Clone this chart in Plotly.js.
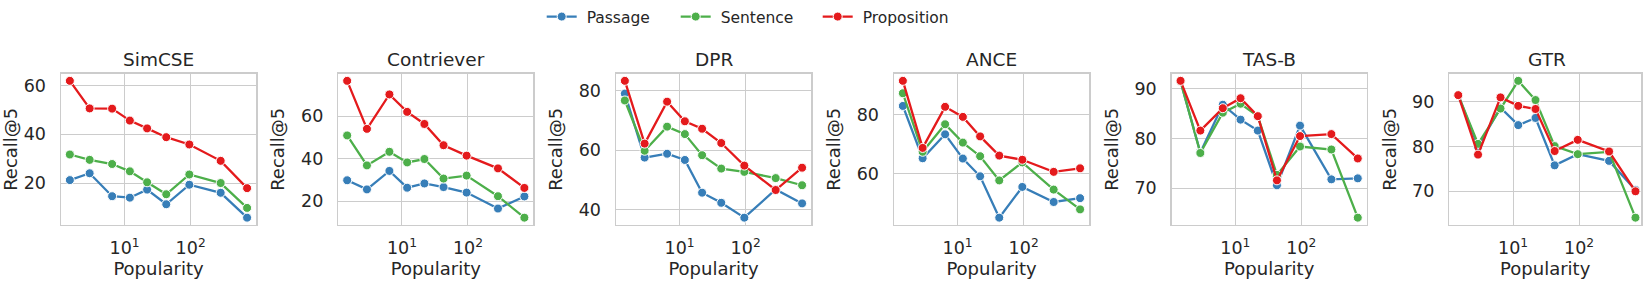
<!DOCTYPE html>
<html>
<head>
<meta charset="utf-8">
<script src="https://cdn.plot.ly/plotly-3.0.1.min.js"></script>
<style>html,body{margin:0;padding:0;background:#fff}#chart{width:1644px;height:281px}</style>
</head>
<body>
<div id="chart"></div>
<script>
// ---- data ----
const popularity = [1.48, 2.95, 6.46, 12.0, 21.9, 42.7, 95.5, 285, 716];
const models = ['SimCSE', 'Contriever', 'DPR', 'ANCE', 'TAS-B', 'GTR'];
const seriesNames = ['Passage', 'Sentence', 'Proposition'];

const simcsePassage     = [21.2, 24.0, 14.6, 14.0, 17.3, 11.3, 19.3, 16.0, 5.8];
const simcseSentence    = [31.7, 29.5, 27.8, 24.8, 20.3, 15.4, 23.5, 20.0, 9.8];
const simcseProposition = [61.9, 50.6, 50.5, 45.6, 42.4, 38.8, 35.8, 29.1, 17.9];

const contrieverPassage     = [29.8, 25.5, 34.2, 26.3, 28.3, 26.6, 24.0, 16.5, 22.2];
const contrieverSentence    = [50.9, 36.8, 43.2, 38.2, 39.8, 30.6, 32.0, 22.3, 12.2];
const contrieverProposition = [76.6, 54.0, 70.2, 62.0, 56.3, 46.3, 41.4, 35.4, 26.2];

const dprPassage     = [79.0, 57.5, 58.8, 56.7, 45.7, 42.3, 37.3, 46.8, 42.1];
const dprSentence    = [76.7, 59.8, 67.9, 65.4, 58.3, 53.8, 52.7, 50.6, 48.2];
const dprProposition = [83.3, 62.2, 76.3, 69.7, 67.2, 62.4, 54.8, 46.6, 54.1];

const ancePassage     = [83.0, 65.3, 73.4, 65.2, 59.2, 45.2, 55.6, 50.5, 51.8];
const anceSentence    = [87.3, 67.5, 76.8, 70.6, 66.0, 57.8, 63.9, 54.7, 48.0];
const anceProposition = [91.5, 68.8, 82.7, 79.3, 72.7, 66.2, 64.8, 60.7, 61.9];

const tasbPassage     = [91.5, 77.2, 86.8, 83.8, 81.6, 70.6, 82.6, 71.8, 72.0];
const tasbSentence    = [91.5, 77.1, 85.2, 87.0, 84.5, 72.7, 78.4, 77.8, 64.1];
const tasbProposition = [91.6, 81.6, 86.1, 88.1, 84.5, 71.6, 80.5, 80.9, 76.0];

const gtrPassage     = [91.5, 80.0, 88.7, 84.8, 86.4, 75.8, 78.3, 76.8, 70.3];
const gtrSentence    = [91.5, 80.6, 88.5, 94.7, 90.4, 80.1, 78.3, 78.8, 64.1];
const gtrProposition = [91.5, 78.2, 91.0, 89.1, 88.4, 79.0, 81.5, 78.9, 70.0];

const simcseTicks = [20, 40, 60];
const contrieverTicks = [20, 40, 60];
const dprTicks = [40, 60, 80];
const anceTicks = [60, 80];
const tasbTicks = [70, 80, 90];
const gtrTicks = [70, 80, 90];

const xTickVals = [10, 100];
const xTickText = ['10<sup>1</sup>', '10<sup>2</sup>'];

// ---- styling / layout ----
const panelSeries = [
  [simcsePassage, simcseSentence, simcseProposition],
  [contrieverPassage, contrieverSentence, contrieverProposition],
  [dprPassage, dprSentence, dprProposition],
  [ancePassage, anceSentence, anceProposition],
  [tasbPassage, tasbSentence, tasbProposition],
  [gtrPassage, gtrSentence, gtrProposition]
];
const panelTicks = [simcseTicks, contrieverTicks, dprTicks, anceTicks, tasbTicks, gtrTicks];

const colors = ['#377eb8', '#4daf4a', '#e41a1c'];
const W = 1644, H = 281;
const lefts = [61, 338.3, 616, 894, 1171.7, 1449.4];
const panelW = 195;
const boxTop = 71, boxBottom = 223.7;
const xLogRange = [0.036, 2.99];
const textColor = '#262626';
const gridColor = '#cccccc';
const FONT = 'DejaVu Sans, sans-serif';

const traces = [];
const layout = {
  width: W, height: H,
  margin: {l: 0, r: 0, t: 0, b: 0, pad: 0},
  paper_bgcolor: '#ffffff',
  plot_bgcolor: '#ffffff',
  font: {family: FONT, color: textColor, size: 16},
  showlegend: true,
  annotations: []
};

const legendIds = ['legend', 'legend2', 'legend3'];
const legendX = [541.7, 675.7, 817.7];

models.forEach((m, i) => {
  const ax = i === 0 ? '' : String(i + 1);
  const left = lefts[i];
  const right = Math.min(left + panelW, 1641);
  const frac = (right - left) / panelW;
  const xr = [xLogRange[0], xLogRange[0] + (xLogRange[1] - xLogRange[0]) * frac];
  let lo = Infinity, hi = -Infinity;
  panelSeries[i].forEach(arr => arr.forEach(v => { lo = Math.min(lo, v); hi = Math.max(hi, v); }));
  const mg = (hi - lo) * 0.05;

  panelSeries[i].forEach((vals, s) => {
    traces.push({
      type: 'scatter', mode: 'lines+markers',
      x: popularity, y: vals,
      name: ' ' + seriesNames[s],
      xaxis: 'x' + ax, yaxis: 'y' + ax,
      line: {color: colors[s], width: 2.3},
      marker: {color: colors[s], size: 9, line: {color: '#ffffff', width: 1}},
      showlegend: i === 0,
      legend: legendIds[s],
      cliponaxis: true
    });
  });

  layout['xaxis' + ax] = {
    type: 'log', range: xr,
    domain: [left / W, right / W],
    anchor: 'y' + ax,
    tickvals: xTickVals, ticktext: xTickText,
    ticks: '', ticklabelstandoff: 7,
    tickfont: {size: 17.5, family: FONT, color: textColor},
    showgrid: true, gridcolor: gridColor, gridwidth: 1,
    showline: true, mirror: true, linecolor: gridColor, linewidth: 1.5,
    zeroline: false, automargin: false,
    title: {text: 'Popularity', font: {size: 18, family: FONT, color: textColor}, standoff: 0}
  };
  layout['yaxis' + ax] = {
    range: [lo - mg, hi + mg],
    domain: [1 - boxBottom / H, 1 - boxTop / H],
    anchor: 'x' + ax,
    tickvals: panelTicks[i],
    ticks: '', ticklabelstandoff: 10,
    tickfont: {size: 17.5, family: FONT, color: textColor},
    showgrid: true, gridcolor: gridColor, gridwidth: 1,
    showline: true, mirror: true, linecolor: gridColor, linewidth: 1.5,
    zeroline: false, automargin: false,
    title: {text: 'Recall@5', font: {size: 18, family: FONT, color: textColor}, standoff: 11}
  };
  layout.annotations.push({
    text: m, xref: 'paper', yref: 'paper',
    x: (left + panelW / 2) / W, y: 1 - 56 / H,
    xanchor: 'center', yanchor: 'middle', showarrow: false,
    font: {size: 18.5, family: FONT, color: textColor}
  });
});

legendIds.forEach((id, k) => {
  layout[id] = {
    orientation: 'h', x: legendX[k] / W, xanchor: 'left',
    y: 1 - 13 / H, yanchor: 'middle',
    bgcolor: 'rgba(0,0,0,0)', borderwidth: 0,
    font: {size: 15.5, family: FONT, color: textColor},
    itemclick: false, itemdoubleclick: false
  };
});

Plotly.newPlot('chart', traces, layout, {staticPlot: true, displayModeBar: false});
</script>
</body>
</html>
